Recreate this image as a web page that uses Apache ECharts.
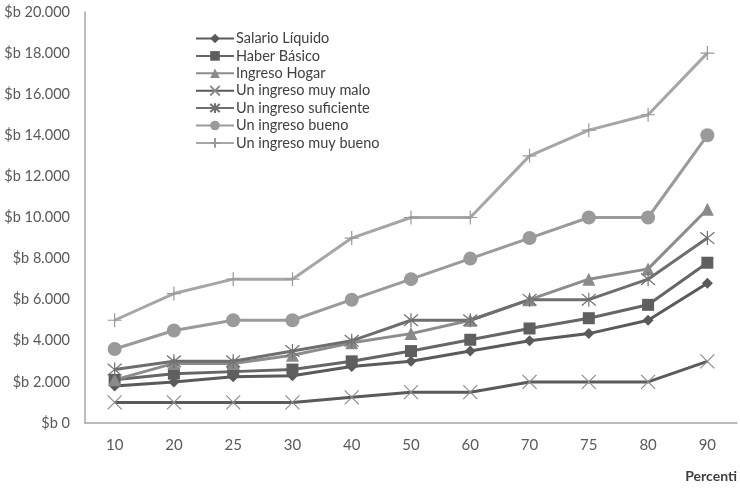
<!DOCTYPE html>
<html>
<head>
<meta charset="utf-8">
<script src="https://cdn.jsdelivr.net/npm/echarts@6/dist/echarts.min.js"></script>
<style>html,body{margin:0;padding:0;background:#fff}#c{width:740px;height:489px}</style>
</head>
<body>
<div id="c"></div>
<script>
const categories = ['10','20','25','30','40','50','60','70','75','80','90'];
const salarioLiquido = [1800,2000,2250,2300,2750,3000,3500,4000,4350,5000,6800];
const haberBasico = [2100,2400,2500,2600,3000,3500,4050,4600,5100,5750,7800];
const ingresoHogar = [2100,2900,2900,3300,3900,4350,5000,6000,7000,7500,10400];
const muyMalo = [1000,1000,1000,1000,1250,1500,1500,2000,2000,2000,3000];
const suficiente = [2600,3000,3000,3500,4000,5000,5000,6000,6000,7000,9000];
const bueno = [3600,4500,5000,5000,6000,7000,8000,9000,10000,10000,14000];
const muyBueno = [5000,6300,7000,7000,9000,10000,10000,13000,14250,15000,18000];
const yMin = 0, yMax = 20000, yStep = 2000;

const FONT = 'Lato, "Open Sans", sans-serif';
const X_PATH = 'path://M0,0L10,10M10,0L0,10';
const AST_PATH = 'path://M0,0L10,10M10,0L0,10M5,-1L5,11';
const PLUS_PATH = 'path://M5,0L5,10M0,5L10,5';

function fmt(v){
  return '$b ' + String(v).replace(/\B(?=(\d{3})+(?!\d))/g, '.');
}

function mk(name, data, lineColor, symbol, size, markColor, strokeOnly, width){
  return {
    name: name, type: 'line', data: data, symbol: symbol, symbolSize: size,
    lineStyle: {color: lineColor, width: width || 3},
    itemStyle: strokeOnly ? {color: 'rgba(0,0,0,0)', borderColor: markColor, borderWidth: 1.2}
                          : {color: markColor, borderWidth: 0},
    emphasis: {disabled: true},
    animation: false, z: 2
  };
}

const chart = echarts.init(document.getElementById('c'));
chart.setOption({
  animation: false,
  backgroundColor: '#ffffff',
  grid: {left: 85, right: 0, top: 12, bottom: 66, containLabel: false},
  legend: {
    orient: 'vertical', left: 190, top: 26, itemGap: 2.4, itemWidth: 38, itemHeight: 12,
    textStyle: {fontFamily: FONT, fontSize: 14.5, lineHeight: 15, color: '#404040', padding: [0,0,0,-3]},
    data: ['Salario Líquido','Haber Básico','Ingreso Hogar','Un ingreso muy malo','Un ingreso suficiente','Un ingreso bueno','Un ingreso muy bueno']
  },
  xAxis: {
    type: 'category', data: categories, boundaryGap: true,
    name: 'Percenti', nameLocation: 'end', nameGap: 0,
    nameTextStyle: {fontFamily: FONT, fontSize: 14, fontWeight: 'bold', color: '#404040', align: 'right', verticalAlign: 'top', padding: [46,0,0,0]},
    axisLine: {lineStyle: {color: '#a6a6a6', width: 1.5}},
    axisTick: {show: false},
    axisLabel: {fontFamily: FONT, fontSize: 15, color: '#595959', margin: 15},
    splitLine: {show: false}
  },
  yAxis: {
    type: 'value', min: yMin, max: yMax, interval: yStep,
    axisLine: {show: true, lineStyle: {color: '#a6a6a6', width: 1.5}},
    axisTick: {show: false},
    splitLine: {show: false},
    axisLabel: {fontFamily: FONT, fontSize: 14.5, color: '#595959', margin: 15, formatter: fmt}
  },
  series: [
    mk('Salario Líquido', salarioLiquido, '#5a5a5a', 'diamond', 11, '#5a5a5a', false, 3),
    mk('Haber Básico', haberBasico, '#666666', 'rect', 12, '#5f5f5f', false, 3),
    mk('Ingreso Hogar', ingresoHogar, '#8c8c8c', 'triangle', 13, '#8a8a8a', false, 3),
    mk('Un ingreso muy malo', muyMalo, '#5a5a5a', X_PATH, 14, '#8c8c8c', true, 3),
    mk('Un ingreso suficiente', suficiente, '#6e6e6e', AST_PATH, 14, '#707070', true, 3),
    mk('Un ingreso bueno', bueno, '#9a9a9a', 'circle', 14, '#9a9a9a', false, 3),
    mk('Un ingreso muy bueno', muyBueno, '#a6a6a6', PLUS_PATH, 14, '#999999', true, 3)
  ]
});
</script>
</body>
</html>
